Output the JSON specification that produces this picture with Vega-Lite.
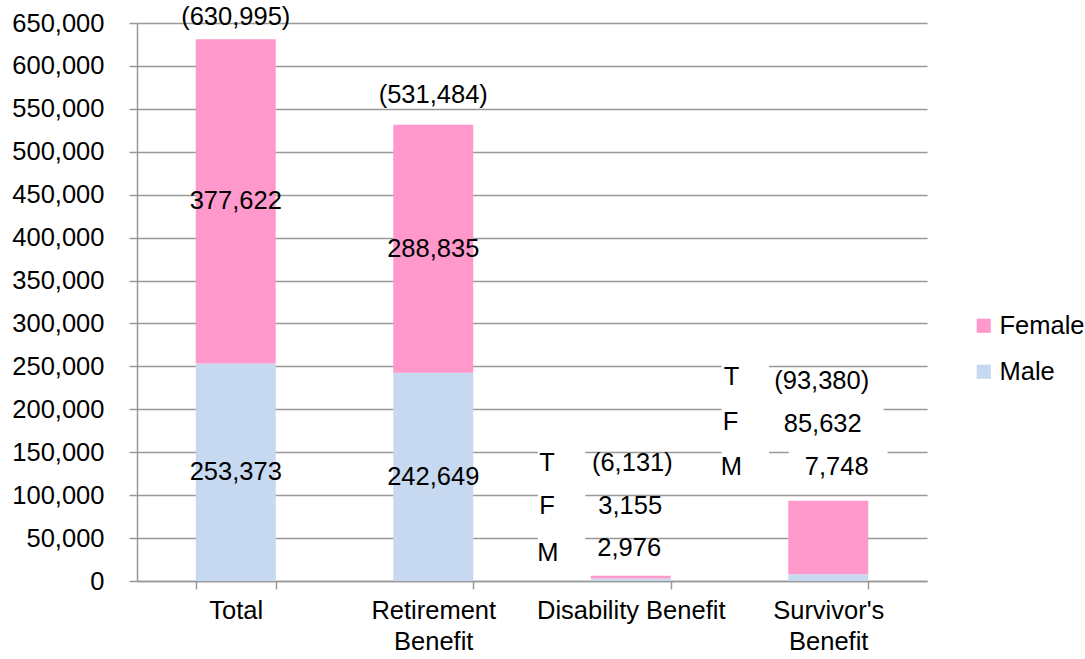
{
  "$schema": "https://vega.github.io/schema/vega-lite/v6.json",
  "width": 790,
  "height": 558,
  "autosize": {"type": "none"},
  "padding": {"left": 137, "top": 23, "right": 158, "bottom": 78},
  "background": "white",
  "config": {
    "font": "Liberation Sans",
    "view": {"stroke": null},
    "axis": {
      "labelFont": "Liberation Sans",
      "labelFontSize": 25.5,
      "labelColor": "#000000",
      "domainColor": "#999999",
      "tickColor": "#999999",
      "gridColor": "#999999",
      "domainWidth": 1.5,
      "tickWidth": 1.5,
      "gridWidth": 1.5,
      "tickSize": 8,
      "title": null
    },
    "text": {"font": "Liberation Sans", "fontSize": 25.5, "color": "#000000"}
  },
  "datasets": {
    "bars": [
      {"category": "Total", "gender": "Male", "count": 253373},
      {"category": "Total", "gender": "Female", "count": 377622},
      {"category": "Retirement Benefit", "gender": "Male", "count": 242649},
      {"category": "Retirement Benefit", "gender": "Female", "count": 288835},
      {"category": "Disability Benefit", "gender": "Male", "count": 2976},
      {"category": "Disability Benefit", "gender": "Female", "count": 3155},
      {"category": "Survivor's Benefit", "gender": "Male", "count": 7748},
      {"category": "Survivor's Benefit", "gender": "Female", "count": 85632}
    ],
    "totals": [
      {"category": "Total", "total": 630995},
      {"category": "Retirement Benefit", "total": 531484}
    ],
    "boxes": [
      {"x0": 2.03, "x1": 2.27, "y0": 20000, "y1": 165000},
      {"x0": 2.96, "x1": 3.2, "y0": 140000, "y1": 260000},
      {"x0": 3.2, "x1": 3.78, "y0": 170000, "y1": 230000},
      {"x0": 3.3, "x1": 3.8, "y0": 140000, "y1": 160000}
    ],
    "notes": [
      {"label": "T", "xq": 2.076, "yv": 137455},
      {"label": "(6,131)", "xq": 2.508, "yv": 137455},
      {"label": "F", "xq": 2.076, "yv": 87366},
      {"label": "3,155", "xq": 2.497, "yv": 87366},
      {"label": "M", "xq": 2.081, "yv": 32616},
      {"label": "2,976", "xq": 2.492, "yv": 38441},
      {"label": "T", "xq": 3.01, "yv": 237634},
      {"label": "(93,380)", "xq": 3.467, "yv": 232975},
      {"label": "F", "xq": 3.005, "yv": 185215},
      {"label": "85,632", "xq": 3.472, "yv": 182885},
      {"label": "M", "xq": 3.01, "yv": 132796},
      {"label": "7,748", "xq": 3.543, "yv": 132796}
    ]
  },
  "resolve": {"scale": {"x": "independent"}, "axis": {"x": "independent"}},
  "layer": [
    {
      "data": {"name": "bars"},
      "layer": [
        {
          "mark": {"type": "bar"},
          "encoding": {
            "x": {
              "field": "category", "type": "nominal", "sort": null,
              "scale": {"paddingInner": 0.595, "paddingOuter": 0.2975},
              "axis": {
                "tickBand": "extent",
                "labelAngle": 0,
                "labelPadding": 9,
                "labelLimit": 400,
                "labelLineHeight": 31,
                "labelExpr": "!isValid(datum.value) ? '' : (datum.value == 'Disability Benefit' ? datum.value : split(datum.value, ' '))"
              }
            },
            "y": {
              "field": "count", "type": "quantitative", "stack": "zero",
              "scale": {"domain": [0, 650000], "nice": false},
              "axis": {
                "values": [0, 50000, 100000, 150000, 200000, 250000, 300000, 350000, 400000, 450000, 500000, 550000, 600000, 650000],
                "format": ",d",
                "grid": true,
                "labelPadding": 25
              }
            },
            "color": {
              "field": "gender", "type": "nominal",
              "scale": {"domain": ["Female", "Male"], "range": ["#FF99CC", "#C6D9F1"]},
              "legend": {
                "orient": "none",
                "legendX": 834,
                "legendY": 290,
                "title": null,
                "symbolType": "square",
                "symbolSize": 200,
                "symbolStrokeWidth": 0,
                "labelFont": "Liberation Sans",
                "labelFontSize": 25.5,
                "labelColor": "#000000",
                "labelOffset": 3,
                "rowPadding": 19
              }
            },
            "order": {"field": "gender", "sort": "descending"}
          }
        },
        {
          "transform": [
            {"filter": "datum.category == 'Total' || datum.category == 'Retirement Benefit'"},
            {"stack": "count", "groupby": ["category"], "sort": [{"field": "gender", "order": "descending"}], "as": ["s0", "s1"]},
            {"calculate": "(datum.s0 + datum.s1) / 2", "as": "mid"}
          ],
          "mark": {"type": "text", "baseline": "middle", "align": "center"},
          "encoding": {
            "x": {"field": "category", "type": "nominal", "sort": null},
            "y": {"field": "mid", "type": "quantitative", "scale": {"domain": [0, 650000], "nice": false}},
            "text": {"field": "count", "type": "quantitative", "format": ",d"}
          }
        },
        {
          "data": {"name": "totals"},
          "transform": [
            {"calculate": "'(' + format(datum.total, ',d') + ')'", "as": "label"},
            {"calculate": "min(datum.total + 34500, 657000)", "as": "ly"}
          ],
          "mark": {"type": "text", "baseline": "middle", "align": "center"},
          "encoding": {
            "x": {"field": "category", "type": "nominal", "sort": null},
            "y": {"field": "ly", "type": "quantitative", "scale": {"domain": [0, 650000], "nice": false}},
            "text": {"field": "label", "type": "nominal"}
          }
        }
      ]
    },
    {
      "layer": [
        {
          "data": {"name": "boxes"},
          "mark": {"type": "rect", "color": "white"},
          "encoding": {
            "x": {"field": "x0", "type": "quantitative", "scale": {"domain": [0, 4], "nice": false, "zero": false}, "axis": null},
            "x2": {"field": "x1"},
            "y": {"field": "y0", "type": "quantitative", "scale": {"domain": [0, 650000], "nice": false}},
            "y2": {"field": "y1"}
          }
        },
        {
          "data": {"name": "notes"},
          "mark": {"type": "text", "baseline": "middle", "align": "center"},
          "encoding": {
            "x": {"field": "xq", "type": "quantitative", "scale": {"domain": [0, 4], "nice": false, "zero": false}, "axis": null},
            "y": {"field": "yv", "type": "quantitative", "scale": {"domain": [0, 650000], "nice": false}},
            "text": {"field": "label", "type": "nominal"}
          }
        }
      ]
    }
  ]
}
